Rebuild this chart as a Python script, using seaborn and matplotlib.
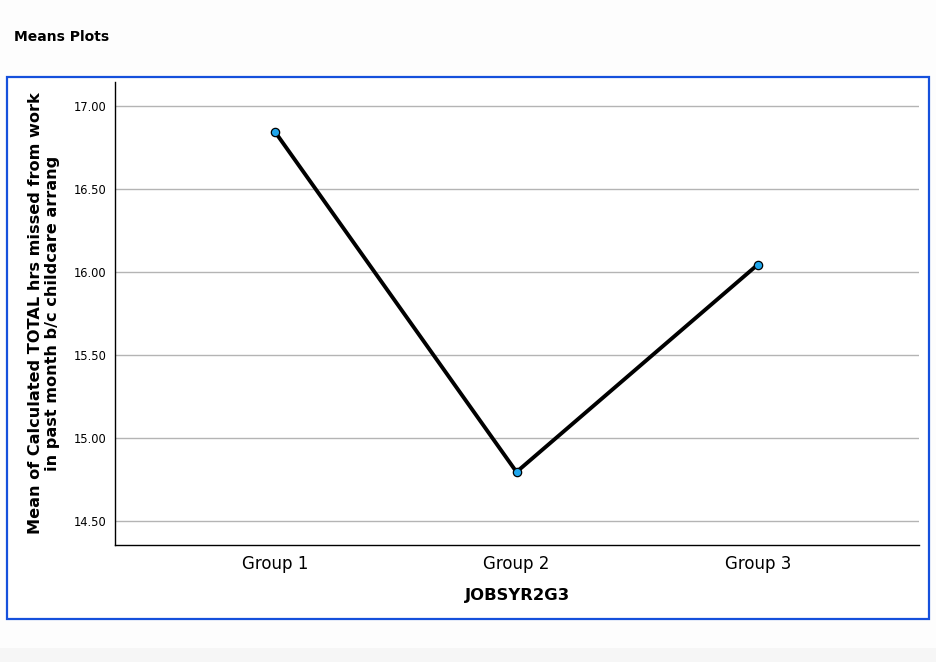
import matplotlib
matplotlib.use("Agg")
import matplotlib.pyplot as plt
import seaborn as sns
import pandas as pd
from matplotlib.patches import Rectangle

groups = ["Group 1", "Group 2", "Group 3"]
means = [16.843, 14.795, 16.045]
yticks = [14.50, 15.00, 15.50, 16.00, 16.50, 17.00]

df = pd.DataFrame({"group": groups, "mean": means})

sns.set_style("white")
plt.rcParams['font.family'] = ['DejaVu Sans']
plt.rcParams.update({"text.color": "black", "axes.labelcolor": "black",
                     "xtick.color": "black", "ytick.color": "black"})

fig = plt.figure(figsize=(9.36, 6.62), dpi=100)
fig.patch.set_facecolor("#fdfdfd")

# bottom gray strip
fig.patches.append(Rectangle((0, 0), 1, 14/662, transform=fig.transFigure,
                             facecolor="#f6f6f6", edgecolor="none", zorder=0))
# white panel with blue frame
fig.patches.append(Rectangle((7/936, 43/662), 922/936, 542/662, transform=fig.transFigure,
                             facecolor="white", edgecolor="#1550dc", linewidth=1.6, zorder=1))

fig.text(14/936, 1 - 37/662, "Means Plots", fontsize=10, fontweight="bold",
         va="center", ha="left")

ax = fig.add_axes([115/936, 117/662, 804/936, 463/662])
ax.set_facecolor("none")
ax.set_zorder(2)

ax.set_ylim(14.355, 17.145)
ax.set_yticks(yticks)
ax.set_yticklabels([f"{v:.2f}" for v in yticks], fontsize=8.3)
ax.yaxis.grid(True, color="#b4b4b4", linewidth=1.0)
ax.set_axisbelow(True)

sns.lineplot(data=df, x="group", y="mean", ax=ax, color="black", linewidth=2.8,
             marker="o", markersize=6, markerfacecolor="#1fa6ec",
             markeredgecolor="black", markeredgewidth=0.9, sort=False)

ax.set_xlim(-0.664, 2.668)
ax.set_xticks(range(len(groups)))
ax.set_xticklabels(groups, fontsize=12)
ax.tick_params(axis="both", length=0, pad=6)
ax.tick_params(axis="x", pad=7)

for s in ["top", "right"]:
    ax.spines[s].set_visible(False)
for s in ["left", "bottom"]:
    ax.spines[s].set_color("black")
    ax.spines[s].set_linewidth(1.0)

ax.set_xlabel("JOBSYR2G3", fontsize=11.8, fontweight="bold", labelpad=11)
ax.set_ylabel("Mean of Calculated TOTAL hrs missed from work\nin past month b/c childcare arrang",
              fontsize=11.6, fontweight="bold", labelpad=10, linespacing=1.15)

fig.savefig("out.png", dpi=100, facecolor=fig.get_facecolor())
